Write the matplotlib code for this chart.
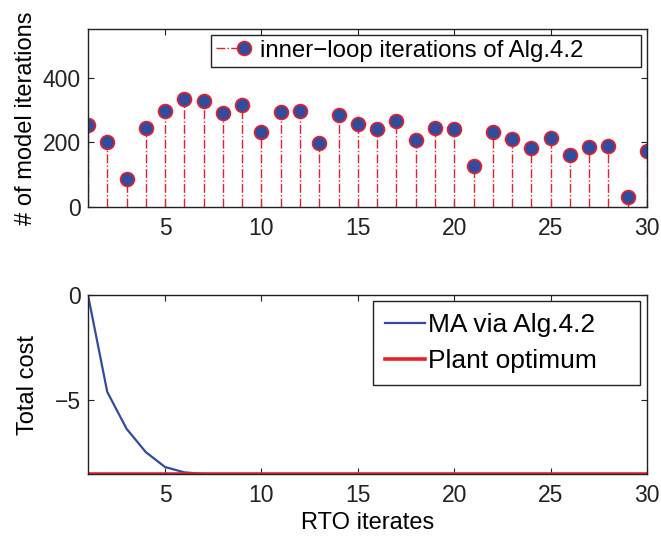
import matplotlib.pyplot as plt
import numpy as np
from matplotlib.lines import Line2D
from matplotlib.legend_handler import HandlerBase

plt.rcParams['font.family'] = ['Liberation Sans', 'DejaVu Sans']

# Data
rto = np.arange(1, 31)
inner_iters = [252, 202, 86, 245, 296, 333, 329, 292, 315, 232,
               295, 298, 197, 285, 256, 241, 267, 208, 243, 241,
               127, 231, 209, 183, 213, 162, 185, 188, 31, 173]
ma_cost = [0.0, -4.6, -6.35, -7.46, -8.17, -8.42, -8.5, -8.5, -8.5, -8.5,
           -8.5, -8.5, -8.5, -8.5, -8.5, -8.5, -8.5, -8.5, -8.5, -8.5,
           -8.5, -8.5, -8.5, -8.5, -8.5, -8.5, -8.5, -8.5, -8.5, -8.5]
plant_opt = -8.5

tick_fs = 16.5
label_fs = 17
blue = '#2f4c9e'
red = '#e8202a'
dark = '#222222'


class StemHandler(HandlerBase):
    # dash-dot line on the left, marker at the right end (MATLAB stem legend)
    def create_artists(self, legend, orig_handle, xdescent, ydescent,
                       width, height, fontsize, trans):
        x0 = -xdescent
        y = (height - ydescent) / 2.0
        line = Line2D([x0, x0 + 0.62 * width], [y, y], linestyle='-.',
                      color=red, linewidth=1.0, transform=trans)
        mk = Line2D([x0 + 0.82 * width], [y], linestyle='none', marker='o',
                    markerfacecolor=blue, markeredgecolor=red, markersize=10,
                    markeredgewidth=1.2, transform=trans)
        return [line, mk]


fig = plt.figure(figsize=(6.61, 5.37), dpi=100)

# Top: stem plot
ax1 = fig.add_axes([0.1331, 0.6145, 0.8457, 0.3315])
ml, sl, bl = ax1.stem(rto, inner_iters, linefmt='-.', markerfmt='o', basefmt=' ')
plt.setp(sl, color=red, linewidth=1.0)
plt.setp(ml, markerfacecolor=blue, markeredgecolor=red, markersize=10, markeredgewidth=1.2)
ax1.set_xlim(1, 30)
ax1.set_ylim(0, 550)
ax1.set_xticks([5, 10, 15, 20, 25, 30])
ax1.set_yticks([0, 200, 400])
ax1.set_ylabel('# of model iterations', fontsize=label_fs)
ax1.yaxis.set_label_coords(-0.091, 0.5)

stem_handle = Line2D([], [], color=red)
ax1.legend([stem_handle], ['inner\u2212loop iterations of Alg.4.2'],
           handler_map={stem_handle: StemHandler()},
           loc='upper left', bbox_to_anchor=(0.22, 0, 0.769, 0.966), mode='expand',
           fontsize=17.3, fancybox=False, edgecolor=dark, framealpha=1,
           handlelength=1.45, handletextpad=0.4, borderpad=0.2, borderaxespad=0)

# Bottom: cost
ax2 = fig.add_axes([0.1331, 0.1173, 0.8457, 0.3333])
ax2.plot(rto, ma_cost, color=blue, linewidth=1.6, label='MA via Alg.4.2')
ax2.plot(rto, [plant_opt] * len(rto), color=red, linewidth=2.6, label='Plant optimum')
ax2.set_xlim(1, 30)
ax2.set_ylim(plant_opt, 0)
ax2.set_xticks([5, 10, 15, 20, 25, 30])
ax2.set_yticks([-5, 0])
ax2.set_ylabel('Total cost', fontsize=label_fs)
ax2.yaxis.set_label_coords(-0.088, 0.5)
ax2.set_xlabel('RTO iterates', fontsize=label_fs, labelpad=4)
ax2.legend(loc='upper left', bbox_to_anchor=(0.51, 0, 0.4775, 0.966), mode='expand',
           fontsize=19, fancybox=False, edgecolor=dark, framealpha=1,
           handlelength=1.5, handletextpad=0.12, borderpad=0.45, labelspacing=0.45,
           borderaxespad=0)

for ax in (ax1, ax2):
    ax.tick_params(direction='in', top=True, right=True, labelsize=tick_fs,
                   length=4, colors=dark)
    ax.tick_params(axis='y', pad=5)
    ax.tick_params(axis='x', pad=7)
    for s in ax.spines.values():
        s.set_linewidth(1.0)
        s.set_color(dark)

fig.savefig('out.png', dpi=100)
